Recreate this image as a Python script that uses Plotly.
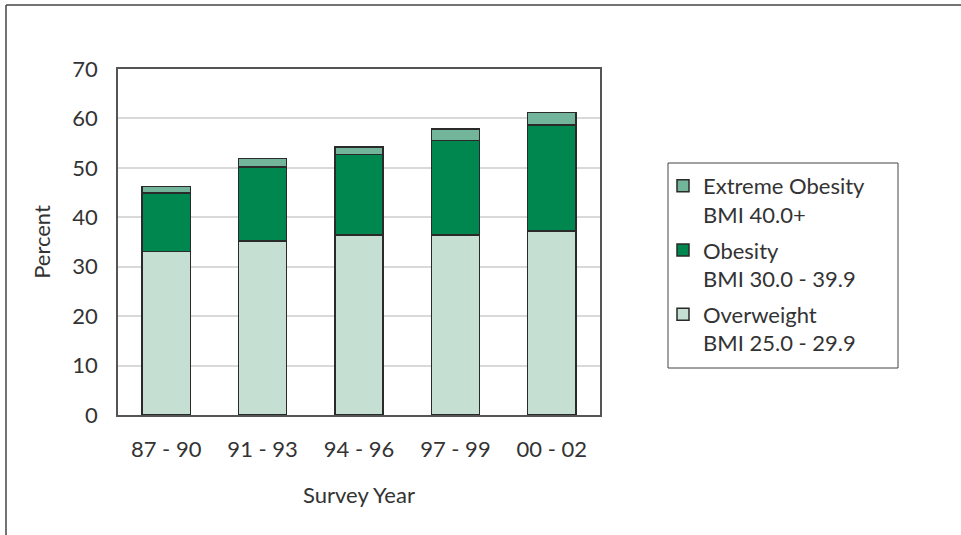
import plotly.graph_objects as go

categories = ["87 - 90", "91 - 93", "94 - 96", "97 - 99", "00 - 02"]
overweight = [33.1, 35.2, 36.4, 36.4, 37.2]
obesity = [11.8, 15.0, 16.3, 19.1, 21.5]
extreme = [1.3, 1.7, 1.5, 2.4, 2.5]
series_names = ["Overweight<br>BMI 25.0 - 29.9", "Obesity<br>BMI 30.0 - 39.9", "Extreme Obesity<br>BMI 40.0+"]

FONT = "Lato"
TXT = "#333333"
FS = 22

fig = go.Figure()
for vals, name, col, grp, rank in zip([overweight, obesity, extreme], series_names,
                                      ["#c5dfd2", "#00864f", "#72b59b"], ["a", "b", "c"], [3, 2, 1]):
    fig.add_bar(x=categories, y=vals, name=name, legendgroup=grp, legendrank=rank,
                marker=dict(color=col, line=dict(color="#2a2a2a", width=1.5)), width=0.5)

L, R, T, B = 118, 600, 69, 415
W, H = 961, 535
pw, ph = R - L, B - T

def px_x(v):
    return (v - L) / pw

def px_y(v):
    return (B - v) / ph

fig.update_layout(
    barmode="stack",
    width=W, height=H,
    margin=dict(l=L, r=W - R, t=T, b=H - B),
    paper_bgcolor="white", plot_bgcolor="white",
    font=dict(family=FONT, size=FS, color=TXT),
    legend=dict(
        x=px_x(663), y=px_y(165), xanchor="left", yanchor="top",
        traceorder="grouped", borderwidth=0, bgcolor="rgba(0,0,0,0)",
        font=dict(family=FONT, size=FS, color=TXT), valign="top",
        tracegroupgap=4, itemwidth=30,
    ),
    xaxis=dict(
        showline=True, mirror=True, linecolor="#555555", linewidth=1.5,
        ticks="", tickfont=dict(size=FS), ticklabelstandoff=14,
        title=dict(text="Survey Year", font=dict(size=FS), standoff=26),
        showgrid=False,
    ),
    yaxis=dict(
        range=[0, 70], dtick=10, showline=True, mirror=True, linecolor="#555555", linewidth=1.5,
        showgrid=True, gridcolor="#d9d9d9", gridwidth=1.5, ticks="",
        tickfont=dict(size=FS), ticklabelstandoff=14,
        title=dict(text="Percent", font=dict(size=FS), standoff=16),
        zeroline=False,
    ),
    shapes=[
        dict(type="line", xref="paper", yref="paper",
             x0=px_x(6), x1=px_x(W + 5), y0=px_y(5), y1=px_y(5),
             line=dict(color="#444444", width=1.5)),
        dict(type="line", xref="paper", yref="paper",
             x0=px_x(6), x1=px_x(6), y0=px_y(5), y1=px_y(H + 5),
             line=dict(color="#444444", width=1.5)),
        dict(type="rect", xref="paper", yref="paper",
             x0=px_x(668), x1=px_x(898), y0=px_y(163), y1=px_y(368),
             line=dict(color="#444444", width=1)),
    ],
)

fig.write_html("out.html")
